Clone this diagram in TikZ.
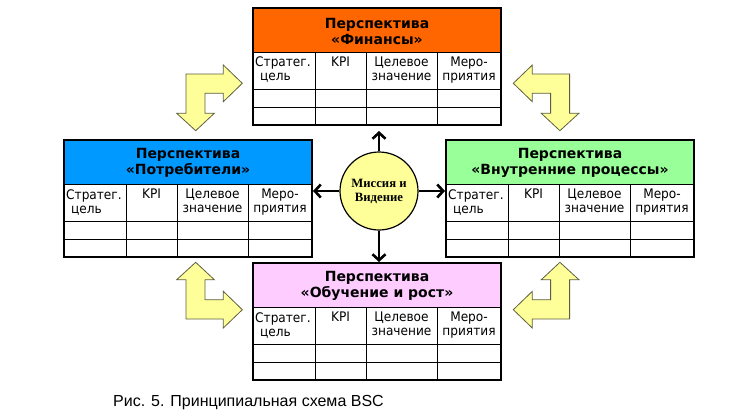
\documentclass[tikz,border=0pt]{standalone}
\usepackage{fontspec}
\setmainfont{DejaVu Sans}
\newfontfamily\tabfont[FakeStretch=0.92]{DejaVu Sans}
\newfontfamily\ttlfont{DejaVu Sans}
\newfontfamily\serfont{Liberation Serif}
\newfontfamily\capfont{Liberation Sans}
\usetikzlibrary{arrows.meta,calc}
\definecolor{finc}{HTML}{FF6600}
\definecolor{potc}{HTML}{0099FF}
\definecolor{vnc}{HTML}{99FF99}
\definecolor{obc}{HTML}{FFCCFF}
\definecolor{yel}{HTML}{FFFF99}
\definecolor{yedge}{HTML}{5F5F40}
\tikzset{
  tabframe/.style={draw, line width=2.5pt, minimum width=248pt, minimum height=117pt, inner sep=0pt, outer sep=0pt},
  inner/.style={line width=0.8pt},
  ttl/.style={font=\ttlfont\bfseries\fontsize{14}{16}\selectfont, align=center, inner sep=0pt},
  colh/.style={font=\tabfont\fontsize{13.2}{14}\selectfont, align=center, inner sep=1pt},
  conn/.style={line width=2.6pt, -{Straight Barb[length=6pt,width=13pt]}},
  bent/.style={fill=yel, draw=yedge, line width=0.8pt, line join=miter},
}
\newcommand\bsctab[5]{%
\begin{scope}[shift={(#2,#3)}]
 \fill[#4] (0,0) rectangle (248,44);
 \draw[inner] (0,44) -- (248,44) (0,81) -- (248,81) (0,99) -- (248,99)
   (62,44) -- (62,117) (113,44) -- (113,117) (184,44) -- (184,117);
 \node[tabframe] (#1) at (124,58.5) {};
 \node[ttl] (#1t) at (124,23) {Перспектива\\«#5»};
 \node[colh, align=left, anchor=north west] (#1a) at (1,48) {Стратег.\\\hspace*{5pt}цель};
 \node[colh, anchor=north] (#1b) at (87.5,48) {KPI};
 \node[colh, anchor=north] (#1c) at (148.5,48) {Целевое\\значение};
 \node[colh, anchor=north] (#1d) at (216,48) {Меро-\\приятия};
\end{scope}}
\newcommand\bentshape{%
 (-182.1,-65.8) -- (-201.1,-83.2) -- (-191.8,-83.2) -- (-191.8,-122.5) -- (-154.5,-122.5)
 -- (-154.5,-131.5) -- (-135.5,-113.2) -- (-154.5,-94.8) -- (-154.5,-103.2) -- (-172.8,-103.2)
 -- (-172.8,-83.2) -- (-163.5,-83.2) -- cycle}
\begin{document}
\begin{tikzpicture}[x=1pt,y=-1pt]
\useasboundingbox (0,0) rectangle (731,418);
\fill[white] (0,0) rectangle (731,418);
% bent arrows
\begin{scope}[shift={(377.8,196.5)}]
 \draw[bent] \bentshape;
 \begin{scope}[xscale=-1] \draw[bent] \bentshape; \end{scope}
 \begin{scope}[yscale=-1] \draw[bent] \bentshape; \end{scope}
 \begin{scope}[xscale=-1,yscale=-1] \draw[bent] \bentshape; \end{scope}
\end{scope}
% tables
\bsctab{F}{253}{8}{finc}{Финансы}
\bsctab{P}{64}{140}{potc}{Потребители}
\bsctab{V}{446}{140}{vnc}{Внутренние процессы}
\bsctab{O}{253}{263}{obc}{Обучение и рост}
% mission
\node[circle, draw, line width=1.2pt, fill=yel, minimum size=78pt, inner sep=0pt, align=center,
      font=\serfont\bfseries\fontsize{12.7}{14}\selectfont] (M) at (379,191) {Миссия и\\Видение};
\draw[conn, shorten >=6pt] (M.north) -- (M.north |- F.south);
\draw[conn, shorten >=1pt] (M.south) -- (M.south |- O.north);
\draw[conn, shorten >=1pt] (M.west) -- (M.west -| P.east);
\draw[conn, shorten >=1pt] (M.east) -- (M.east -| V.west);
% caption
\node[anchor=base west, inner sep=0pt, font=\capfont\fontsize{16}{18}\selectfont] (cap) at (113,406) {Рис. 5. Принципиальная схема BSC};
\end{tikzpicture}
\end{document}
